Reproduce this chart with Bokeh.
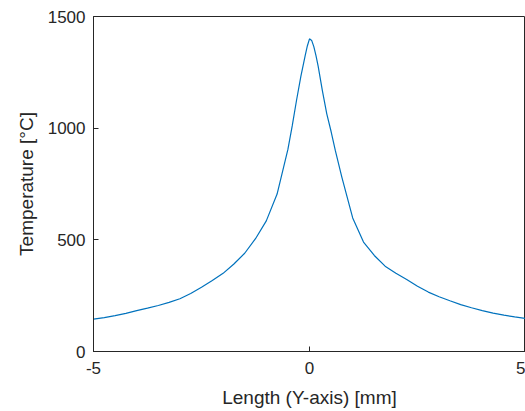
from bokeh.plotting import figure
from bokeh.models import FixedTicker, Range1d, PrintfTickFormatter
from bokeh.embed import file_html
from bokeh.resources import INLINE

length_mm = [-5.0, -4.75, -4.5, -4.25, -4.0, -3.75, -3.5, -3.25, -3.0, -2.75,
             -2.5, -2.25, -2.0, -1.75, -1.5, -1.25, -1.0, -0.75, -0.5, -0.4,
             -0.3, -0.2, -0.1, -0.05, 0.0, 0.05, 0.1, 0.15, 0.2, 0.3, 0.4,
             0.5, 0.6, 0.75, 1.0, 1.25, 1.5, 1.75, 2.0, 2.25, 2.5, 2.75,
             3.0, 3.25, 3.5, 3.75, 4.0, 4.25, 4.5, 4.75, 5.0]
temperature_c = [145, 152, 161, 171, 183, 194, 206, 220, 236, 260,
                 288, 318, 350, 392, 440, 505, 585, 705, 905, 1010,
                 1125, 1232, 1325, 1368, 1400, 1393, 1365, 1325, 1278, 1166, 1064,
                 985, 898, 780, 598, 490, 430, 382, 350, 322, 292, 266,
                 245, 227, 210, 196, 183, 172, 163, 155, 148]
x_ticks = [-5, 0, 5]
y_ticks = [0, 500, 1000, 1500]

AX = "#262626"
FONT = "Liberation Sans"

p = figure(width=525, height=411, output_backend="svg", toolbar_location=None,
           x_range=Range1d(-5, 5), y_range=Range1d(0, 1500),
           min_border_left=93, min_border_right=0, min_border_top=16, min_border_bottom=60,
           background_fill_color="white", border_fill_color="white")
p.outline_line_color = AX
p.outline_line_width = 1
p.xgrid.visible = False
p.ygrid.visible = False

p.line(length_mm, temperature_c, line_color="#0072BD", line_width=1.2)

for ax, ticks in ((p.xaxis[0], x_ticks), (p.yaxis[0], y_ticks)):
    ax.ticker = FixedTicker(ticks=ticks)
    ax.formatter = PrintfTickFormatter(format="%d")
    ax.axis_line_color = AX
    ax.major_tick_line_color = AX
    ax.major_tick_in = 5
    ax.major_tick_out = 0
    ax.minor_tick_line_color = None
    ax.major_label_text_font = FONT
    ax.major_label_text_font_size = "17px"
    ax.major_label_text_color = AX
    ax.axis_label_text_font = FONT
    ax.axis_label_text_font_size = "19px"
    ax.axis_label_text_font_style = "normal"
    ax.axis_label_text_color = AX

p.xaxis[0].axis_label = "Length (Y-axis) [mm]"
p.yaxis[0].axis_label = "Temperature [°C]"
p.xaxis[0].major_label_standoff = 10
p.yaxis[0].major_label_standoff = 8
p.xaxis[0].axis_label_standoff = 10
p.yaxis[0].axis_label_standoff = 8

open("out.html", "w").write(file_html(p, INLINE))
